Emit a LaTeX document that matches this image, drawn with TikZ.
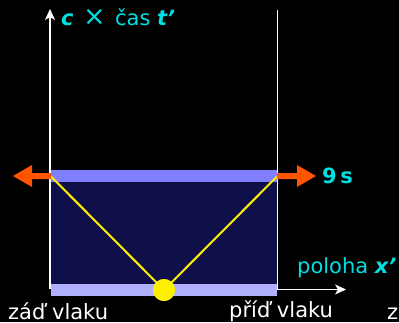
\documentclass[tikz,border=0pt]{standalone}
\usepackage{fontspec}
\setmainfont{DejaVu Sans}
\usetikzlibrary{arrows.meta}
\definecolor{navy}{HTML}{0F0F4A}
\definecolor{bandtop}{HTML}{8080FF}
\definecolor{bandbot}{HTML}{B0B0FF}
\definecolor{orng}{HTML}{FF5500}
\definecolor{yel}{HTML}{FFF000}
\definecolor{cyn}{HTML}{00E0E0}
\tikzset{
  axis/.style={white, line width=1.2pt},
  axtip/.style={-{Stealth[length=11pt,width=10pt,inset=3pt]}},
  lbl/.style={font=\fontsize{21}{23}\selectfont, inner sep=0pt, anchor=base west},
  cylbl/.style={lbl, text=cyn},
  whlbl/.style={lbl, text=white},
  fatarrow/.style={fill=orng, draw=none},
  ray/.style={yel, line width=2pt}
}
\begin{document}
\begin{tikzpicture}[x=1pt,y=-1pt]
\fill[black] (0,0) rectangle (399,322);
\useasboundingbox (0,0) rectangle (399,322);
% axes
\coordinate (o) at (50,289);
\coordinate (ytop) at (50,9);
\coordinate (xend) at (346,289.5);
\coordinate (rtop) at (277.5,10);
\coordinate (rbot) at (277.5,289);
\draw[axis] (rbot) -- (rtop);
% train box
\fill[navy] (51,182) rectangle (277,284);
\fill[bandtop] (51,170) rectangle (277,182);
\fill[bandbot] (51,284) rectangle (277,296);
\draw[axis, axtip] (o) -- (ytop);
\draw[axis, axtip] (277,289.5) -- (xend);
% light rays
\coordinate (lend) at (51,176.5);
\coordinate (rend) at (277,176.5);
\node[circle, fill=yel, minimum size=22pt, inner sep=0pt] (src) at (164,290) {};
\draw[ray] (lend) -- (src.center) -- (rend);
\node[circle, fill=yel, minimum size=22pt, inner sep=0pt] at (164,290) {};
% orange arrows
\fill[fatarrow] (51,173) -- (32,173) -- (32,165) -- (13,176) -- (32,187) -- (32,179) -- (51,179) -- cycle;
\fill[fatarrow] (277,173) -- (297,173) -- (297,165) -- (316,176) -- (297,187) -- (297,179) -- (277,179) -- cycle;
% labels
\node[cylbl] (tlab) at (61,25) {\textbf{\textit{c}}\hspace{0.45em}{\fontsize{27}{27}\selectfont ×}\hspace{0.45em}čas \textbf{\textit{t’}}};
\node[cylbl] (nine) at (322,183) {\textbf{9\,s}};
\node[cylbl] (xlab) at (297,273) {poloha \textbf{\textit{x’}}};
\node[whlbl] (rear) at (8,319) {záď vlaku};
\node[whlbl] (front) at (229,317) {příď vlaku};
\begin{scope}
\clip (0,0) rectangle (399,322);
\node[whlbl] (za) at (387,319) {za};
\end{scope}
\end{tikzpicture}
\end{document}
